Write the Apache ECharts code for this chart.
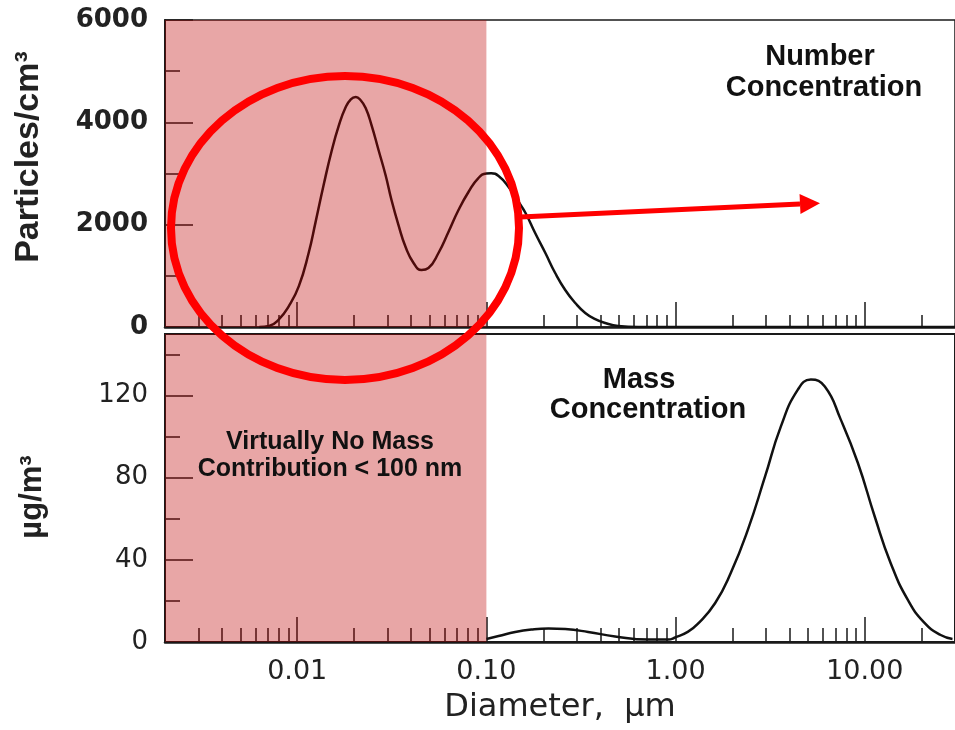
<!DOCTYPE html>
<html>
<head>
<meta charset="utf-8">
<title>Number and mass size distribution</title>
<script src="https://cdn.jsdelivr.net/npm/echarts@6/dist/echarts.min.js"></script>
<style>
  html, body { margin: 0; padding: 0; background: #fff; }
  #chart { width: 955px; height: 730px; }
</style>
</head>
<body>
<div id="chart"></div>
<script>
// values: diameter in µm
const numDiam = [0.0063, 0.0071, 0.0080, 0.0090, 0.0102, 0.0115, 0.0125, 0.0138, 0.0152, 0.0166,
  0.0180, 0.0192, 0.0204, 0.0216, 0.0230, 0.0247, 0.0269, 0.0293, 0.0315, 0.0343,
  0.0374, 0.0412, 0.0454, 0.0494, 0.0558, 0.0630, 0.0712, 0.0804, 0.0907, 0.100,
  0.106, 0.116, 0.131, 0.148, 0.161, 0.181, 0.205, 0.231, 0.261, 0.295,
  0.333, 0.376, 0.425, 0.497, 0.634, 30];
// particles / cm3
const numConc = [0, 20, 150, 400, 800, 1450, 2050, 2780, 3440, 3940,
  4290, 4450, 4494, 4436, 4279, 3947, 3459, 2970, 2482, 1993,
  1563, 1251, 1114, 1153, 1446, 1856, 2286, 2638, 2911, 3000,
  3005, 2951, 2736, 2443, 2228, 1837, 1446, 1055, 723, 469,
  274, 156, 78, 20, 0, 0];

const massDiam = [0.100, 0.116, 0.142, 0.173, 0.213, 0.261, 0.345, 0.479, 0.716, 0.913,
  0.994, 1.16, 1.31, 1.62, 1.96, 2.41, 2.97, 3.60, 4.43, 5.19,
  6.15, 7.47, 9.19, 11.3, 13.7, 16.9, 20.7, 25.2, 29.1];
// µg / m3
const massConc = [1.5, 2.9, 4.9, 6.1, 6.6, 6.3, 4.9, 2.7, 1.2, 1.2,
  2.2, 4.9, 8.8, 19.0, 33.7, 54.6, 80.5, 104.9, 122.9, 127.8,
  124.4, 108.3, 87.3, 61.0, 38.5, 20.5, 9.3, 3.4, 1.5];

const dMin = 0.002, dMax = 30, dCut = 0.1;
const majorTicks = [0.01, 0.1, 1, 10];
const minorTicks = [0.003, 0.004, 0.005, 0.006, 0.007, 0.008, 0.009,
  0.02, 0.03, 0.04, 0.05, 0.06, 0.07, 0.08, 0.09,
  0.2, 0.3, 0.4, 0.5, 0.6, 0.7, 0.8, 0.9,
  2, 3, 4, 5, 6, 7, 8, 9, 20];

// arrow from the circled modes towards the label
const arrowFrom = [0.151, 2150];
const arrowTo = [5.8, 2420];

const lg = Math.log10;
const ink = '#1a1a1a';
const shade = 'rgba(189, 0, 0, 0.35)';
const font = s => 'bold ' + s + 'px "Liberation Sans", Arial, sans-serif';

function xAx(gridIndex, ticks, len, main, labels) {
  return {
    type: 'value',
    gridIndex: gridIndex,
    position: 'bottom',
    min: lg(dMin),
    max: lg(dMax),
    axisLine: { show: main, onZero: false, lineStyle: { color: ink, width: 2.5 } },
    axisTick: { show: true, inside: true, length: len, customValues: ticks.map(lg),
      lineStyle: { color: ink, width: 1.5 } },
    axisLabel: labels ? {
      show: true,
      customValues: majorTicks.map(lg),
      margin: 16,
      fontFamily: 'DejaVu Sans',
      fontSize: 27,
      color: '#222',
      formatter: v => Math.pow(10, v).toFixed(2)
    } : { show: false },
    splitLine: { show: false }
  };
}

function yAx(gridIndex, max, interval, weight) {
  return {
    type: 'value', gridIndex: gridIndex, min: 0, max: max, interval: interval,
    axisLine: { show: true, onZero: false, lineStyle: { color: ink, width: 2 } },
    axisTick: { show: true, inside: true, length: 28, lineStyle: { color: ink, width: 1.5 } },
    minorTick: { show: true, splitNumber: 2, length: 15, lineStyle: { color: ink, width: 1.5 } },
    axisLabel: { margin: 17, fontFamily: 'DejaVu Sans', fontWeight: weight, fontSize: 26,
      color: '#222', showMaxLabel: max % interval === 0, formatter: v => String(v) },
    splitLine: { show: false }
  };
}

function curve(name, gridIndex, xs, ys) {
  return {
    name: name,
    type: 'line',
    xAxisIndex: gridIndex, yAxisIndex: gridIndex,
    data: xs.map((d, i) => [lg(d), ys[i]]),
    smooth: 0.5,
    showSymbol: false,
    lineStyle: { color: '#111', width: 2.5 }
  };
}

const chart = echarts.init(document.getElementById('chart'));

const bottomMajor = xAx(1, majorTicks, 25, true, true);
bottomMajor.name = 'Diameter,  µm';
bottomMajor.nameLocation = 'middle';
bottomMajor.nameGap = 50;
bottomMajor.nameTextStyle = { fontFamily: 'DejaVu Sans', fontSize: 32, color: '#222' };

chart.setOption({
  animation: false,
  backgroundColor: '#fff',
  grid: [
    { left: 165, top: 20, width: 793, height: 307, show: true, borderColor: ink, borderWidth: 1.5 },
    { left: 165, top: 334, width: 793, height: 308, show: true, borderColor: ink, borderWidth: 2 }
  ],
  xAxis: [
    xAx(0, majorTicks, 25, true, false),
    bottomMajor,
    xAx(0, minorTicks, 12, false, false),
    xAx(1, minorTicks, 14, false, false)
  ],
  yAxis: [
    yAx(0, 6000, 2000, 'bold'),
    yAx(1, 150, 40, 'normal')
  ],
  series: [
    curve('Number Concentration', 0, numDiam, numConc),
    curve('Mass Concentration', 1, massDiam, massConc)
  ]
});

// overlay: shaded "< 100 nm" band (like a highlighter), arrow, circle and labels
const els = [];
[[0, 6000], [1, 150]].forEach(([g, top]) => {
  const p0 = chart.convertToPixel({ xAxisIndex: g, yAxisIndex: g }, [lg(dMin), top]);
  const p1 = chart.convertToPixel({ xAxisIndex: g, yAxisIndex: g }, [lg(dCut), 0]);
  els.push({ type: 'rect', z: 10, silent: true,
    shape: { x: p0[0], y: p0[1], width: p1[0] - p0[0], height: p1[1] - p0[1] },
    style: { fill: shade } });
});
const a0 = chart.convertToPixel({ xAxisIndex: 0, yAxisIndex: 0 }, [lg(arrowFrom[0]), arrowFrom[1]]);
const a1 = chart.convertToPixel({ xAxisIndex: 0, yAxisIndex: 0 }, [lg(arrowTo[0]), arrowTo[1]]);
const ang = Math.atan2(a1[1] - a0[1], a1[0] - a0[0]);
const hl = 20, hw = 10;
const bx = a1[0] - hl * Math.cos(ang), by = a1[1] - hl * Math.sin(ang);
els.push({ type: 'line', z: 100, silent: true,
  shape: { x1: a0[0], y1: a0[1], x2: bx, y2: by },
  style: { stroke: '#ff0000', lineWidth: 5 } });
els.push({ type: 'polygon', z: 100, silent: true,
  shape: { points: [a1,
    [bx + hw * Math.sin(ang), by - hw * Math.cos(ang)],
    [bx - hw * Math.sin(ang), by + hw * Math.cos(ang)]] },
  style: { fill: '#ff0000' } });
els.push(
  { type: 'ellipse', z: 100, silent: true,
    shape: { cx: 345, cy: 228, rx: 174, ry: 152 },
    style: { fill: 'none', stroke: '#ff0000', lineWidth: 8 } },
  { type: 'text', z: 100, x: 29, y: 157, rotation: Math.PI / 2,
    style: { text: 'Particles/cm³', font: font(34), fill: '#222', align: 'center', verticalAlign: 'middle' } },
  { type: 'text', z: 100, x: 32, y: 497, rotation: Math.PI / 2,
    style: { text: 'µg/m³', font: font(31), fill: '#222', align: 'center', verticalAlign: 'middle' } },
  { type: 'text', z: 100, x: 820, y: 57,
    style: { text: 'Number', font: font(29), fill: '#111', align: 'center', verticalAlign: 'middle' } },
  { type: 'text', z: 100, x: 824, y: 88,
    style: { text: 'Concentration', font: font(29), fill: '#111', align: 'center', verticalAlign: 'middle' } },
  { type: 'text', z: 100, x: 639, y: 380,
    style: { text: 'Mass', font: font(29), fill: '#111', align: 'center', verticalAlign: 'middle' } },
  { type: 'text', z: 100, x: 648, y: 410,
    style: { text: 'Concentration', font: font(29), fill: '#111', align: 'center', verticalAlign: 'middle' } },
  { type: 'text', z: 100, x: 330, y: 456,
    style: { text: 'Virtually No Mass\nContribution < 100 nm', font: font(25),
      lineHeight: 27, fill: '#111', align: 'center', verticalAlign: 'middle' } }
);
chart.setOption({ graphic: { elements: els } });
</script>
</body>
</html>
